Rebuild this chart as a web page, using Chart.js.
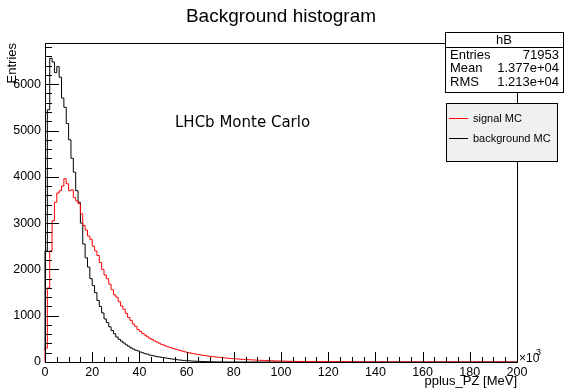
<!DOCTYPE html>
<html>
<head>
<meta charset="utf-8">
<style>
  html, body { margin: 0; padding: 0; background: #fff; }
  #wrap { position: relative; width: 564px; height: 392px; }
</style>
</head>
<body>
<div id="wrap"><canvas id="histChart"></canvas></div>

<script src="https://cdn.jsdelivr.net/npm/chart.js"></script>
<script>
// one bin = 1 x10^3 MeV, first bin starts at 0
const binWidth = 1;
const xRange = [0, 200];
const yMax = 6890;

// signal MC counts per bin
const signalMC = [
  0, 300, 1600, 2400, 3050, 3450, 3650, 3700, 3800, 3960,
  3850, 3700, 3720, 3550, 3480, 3420, 3200, 2950, 2850, 2720,
  2650, 2500, 2400, 2300, 2150, 2000, 1880, 1800, 1680, 1560,
  1450, 1400, 1300, 1210, 1140, 1050, 960, 900, 820, 770,
  700, 660, 615, 580, 545, 510, 485, 455, 430, 405,
  380, 362, 340, 322, 305, 290, 275, 262, 246, 232,
  218, 206, 196, 184, 175, 166, 156, 150, 140, 134,
  126, 120, 113, 108, 102, 97, 91, 87, 82, 77,
  73, 69, 66, 62, 58, 55, 52, 50, 47, 44,
  41, 39, 36, 34, 32, 30, 28, 26, 25, 23,
  21, 20, 19, 17, 16, 15, 14, 13, 12, 12,
  11, 11, 10, 10, 9, 9, 8, 8, 8, 7,
  7, 7, 6, 6, 6, 5, 5, 5, 4, 4,
  4, 4, 3, 3, 3, 3, 2, 2, 2, 2,
  1, 1, 1, 1, 1
];

// background MC counts per bin
const backgroundMC = [
  250, 2400, 5450, 6560, 6480, 6250, 6380, 6150, 5700, 5500,
  5150, 4800, 4400, 4100, 3700, 3450, 3000, 2550, 2250, 2050,
  1800, 1650, 1500, 1330, 1200, 1060, 930, 850, 760, 680,
  610, 540, 490, 450, 410, 370, 340, 305, 280, 255,
  240, 215, 198, 180, 168, 150, 140, 128, 115, 110,
  100, 92, 85, 76, 68, 60, 53, 46, 41, 35,
  30, 27, 24, 20, 18, 15, 13, 11, 10, 8,
  7, 5, 4, 3, 2, 1
];

const xTicks = [0, 20, 40, 60, 80, 100, 120, 140, 160, 180, 200];
const yTicks = [0, 1000, 2000, 3000, 4000, 5000, 6000];
const statsName = 'hB';
const statsLabels = ['Entries', 'Mean', 'RMS'];
const statsValues = ['71953', '1.377e+04', '1.213e+04'];
const legendLabels = ['signal MC', 'background MC'];

const sans = '"Liberation Sans", Arial, Helvetica, sans-serif';

function toSteps(counts) {
  const pts = counts.map((v, i) => ({ x: xRange[0] + i * binWidth, y: v }));
  pts.push({ x: xRange[0] + counts.length * binWidth, y: 0 });
  pts.push({ x: xRange[1], y: 0 });
  return pts;
}

// ROOT-like frame, inner ticks, titles, stats box and legend
const rootDecor = {
  id: 'rootDecor',
  afterDraw(chart) {
    const { ctx, chartArea: a, scales: { x, y } } = chart;
    ctx.save();
    ctx.strokeStyle = '#000';
    ctx.lineWidth = 1;

    ctx.strokeRect(a.left + 0.5, a.top + 0.5, a.right - a.left, a.bottom - a.top);

    // major ticks at the labelled values, 5 / 4 minor divisions between them
    ctx.beginPath();
    for (let v = 0; v <= y.max; v += 200) {
      const py = Math.round(y.getPixelForValue(v)) + 0.5;
      const len = yTicks.includes(v) ? 14 : 7;
      ctx.moveTo(a.left, py);
      ctx.lineTo(a.left + len, py);
    }
    for (let v = xRange[0]; v <= xRange[1]; v += 5) {
      const px = Math.round(x.getPixelForValue(v)) + 0.5;
      const len = xTicks.includes(v) ? 10 : 5;
      ctx.moveTo(px, a.bottom);
      ctx.lineTo(px, a.bottom - len);
    }
    ctx.stroke();

    ctx.fillStyle = '#000';

    // title
    ctx.font = '19px ' + sans;
    ctx.textAlign = 'center';
    ctx.textBaseline = 'middle';
    ctx.fillText('Background histogram', 281, 17);

    // label inside the plot
    ctx.font = '15px "DejaVu Sans", sans-serif';
    ctx.textAlign = 'left';
    ctx.fillText('LHCb Monte Carlo', 175, 123);

    // axis titles
    ctx.font = '13px ' + sans;
    ctx.textAlign = 'right';
    ctx.fillText('pplus_PZ [MeV]', a.right, 381);
    ctx.save();
    ctx.translate(12, a.top);
    ctx.rotate(-Math.PI / 2);
    ctx.textAlign = 'right';
    ctx.fillText('Entries', 0, 0);
    ctx.restore();

    // x10^3 exponent
    ctx.textAlign = 'left';
    ctx.font = '12px ' + sans;
    ctx.fillText('\u00d710', a.right + 2, 359);
    ctx.font = '9px ' + sans;
    ctx.fillText('3', a.right + 19, 353);

    // stats box
    ctx.fillStyle = '#fff';
    ctx.fillRect(445.5, 32.5, 118, 60);
    ctx.strokeRect(445.5, 32.5, 118, 60);
    ctx.beginPath();
    ctx.moveTo(445, 47.5);
    ctx.lineTo(564, 47.5);
    ctx.stroke();
    ctx.fillStyle = '#000';
    ctx.font = '13px ' + sans;
    ctx.textAlign = 'center';
    ctx.fillText(statsName, 504, 40);
    statsLabels.forEach((lab, i) => {
      const ty = 55 + i * 13.5;
      ctx.textAlign = 'left';
      ctx.fillText(lab, 450, ty);
      ctx.textAlign = 'right';
      ctx.fillText(statsValues[i], 559, ty);
    });

    // legend box
    ctx.fillStyle = '#f0f0f0';
    ctx.fillRect(446.5, 103.5, 111, 58);
    ctx.strokeRect(446.5, 103.5, 111, 58);
    const colors = chart.data.datasets.map(d => d.borderColor);
    legendLabels.forEach((lab, i) => {
      const ly = 118.5 + i * 20;
      ctx.strokeStyle = colors[i];
      ctx.beginPath();
      ctx.moveTo(449, ly);
      ctx.lineTo(468, ly);
      ctx.stroke();
      ctx.fillStyle = '#000';
      ctx.font = '11px ' + sans;
      ctx.textAlign = 'left';
      ctx.fillText(lab, 473, ly);
    });

    ctx.restore();
  }
};

document.addEventListener('DOMContentLoaded', function() {
  const ctx = document.getElementById('histChart').getContext('2d');

  new Chart(ctx, {
    type: 'line',
    data: {
      datasets: [
        {
          label: legendLabels[0],
          data: toSteps(signalMC),
          borderColor: '#ff0000',
          borderWidth: 1,
          stepped: 'after',
          pointRadius: 0,
          fill: false,
          clip: false,
          order: 0
        },
        {
          label: legendLabels[1],
          data: toSteps(backgroundMC),
          borderColor: '#000000',
          borderWidth: 1,
          stepped: 'after',
          pointRadius: 0,
          fill: false,
          clip: false,
          order: 1
        }
      ]
    },
    options: {
      responsive: true,
      maintainAspectRatio: false,
      animation: false,
      devicePixelRatio: 1,
      layout: { padding: { top: 43, right: 47, left: 0, bottom: 0 } },
      scales: {
        x: {
          type: 'linear',
          min: xRange[0],
          max: xRange[1],
          grid: { display: false, drawTicks: false },
          border: { display: false },
          afterBuildTicks: s => { s.ticks = xTicks.map(v => ({ value: v })); },
          ticks: {
            autoSkip: false,
            maxRotation: 0,
            padding: 3,
            color: '#000',
            font: { family: sans, size: 12.5 },
            callback: v => String(v)
          },
          afterFit: s => { s.height = 30; }
        },
        y: {
          type: 'linear',
          min: 0,
          max: yMax,
          grid: { display: false, drawTicks: false },
          border: { display: false },
          afterBuildTicks: s => { s.ticks = yTicks.map(v => ({ value: v })); },
          ticks: {
            autoSkip: false,
            padding: 4,
            color: '#000',
            font: { family: sans, size: 12.5 },
            callback: v => String(v)
          },
          afterFit: s => { s.width = 45; }
        }
      },
      plugins: {
        legend: { display: false },
        title: { display: false },
        tooltip: { enabled: false }
      }
    },
    plugins: [rootDecor]
  });
});
</script>
</body>
</html>
